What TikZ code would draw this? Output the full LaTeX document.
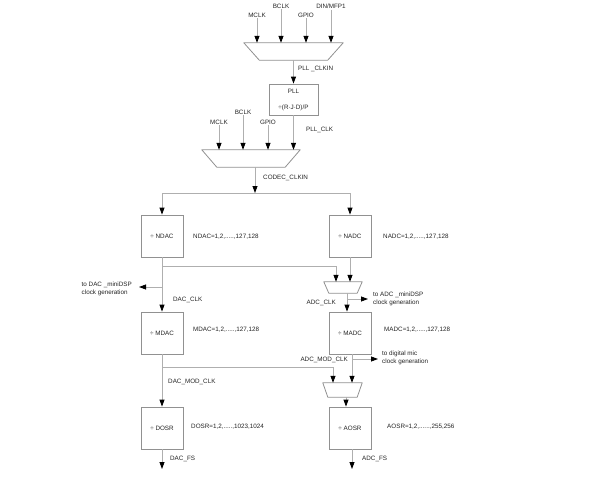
\documentclass[tikz,border=0pt]{standalone}
\usepackage{fontspec}
\setmainfont{Liberation Sans}
\usetikzlibrary{arrows.meta}
\definecolor{wiregray}{RGB}{175,175,175}
\definecolor{boxgray}{RGB}{145,145,145}
\definecolor{txtgray}{RGB}{35,35,35}
\tikzset{blk/.style={rectangle,draw=boxgray,line width=0.8pt,minimum width=42pt,minimum height=42pt,inner sep=0pt,text=txtgray}}
\tikzset{mux/.style={rectangle,inner sep=0pt}}
\tikzset{lbl/.style={inner sep=1pt,text=txtgray}}
\tikzset{wire/.style={draw=wiregray,line width=0.8pt}}
% trapezoid outline on a mux node: name, inset of the lower edge
\newcommand{\muxoutline}[2]{\draw[boxgray,line width=0.8pt,line join=round] (#1.north west) -- (#1.north east) -- ([xshift=-#2]#1.south east) -- ([xshift=#2]#1.south west) -- cycle;}

\begin{document}
\begin{tikzpicture}[x=1pt,y=-1pt,>={Triangle[length=7pt,width=5pt,color=black]},font=\fontsize{6.3}{8}\selectfont]
    \useasboundingbox (0,0) rectangle (611,480);
    % PLL input select
    \node[mux,minimum width=99pt,minimum height=17pt] (pllmux) at (293.5,51.5) {};
    \muxoutline{pllmux}{15.5pt}
    \node[lbl] (mclka) at (257,15) {MCLK};
    \node[lbl] (bclka) at (281,6) {BCLK};
    \node[lbl] (gpioa) at (306,15) {GPIO};
    \node[lbl] (dina) at (331,6) {DIN/MFP1};
    \foreach \n in {mclka,bclka,gpioa,dina}
        \draw [wire,->] (\n) -- (\n |- pllmux.north);
    \node[blk,minimum width=49pt,minimum height=31pt,align=center] (pll) at (293.5,99.5) {PLL\\[8pt]÷(R·J·D)/P};
    \draw [wire,->] (pllmux.south -| pll) -- (pll);
    \node[lbl,anchor=west] (pllclkin) at (297,69) {PLL \_CLKIN};
    % codec input select
    \node[mux,minimum width=98pt,minimum height=17pt] (codecmux) at (251,158.5) {};
    \muxoutline{codecmux}{15pt}
    \node[lbl] (mclkb) at (219,122) {MCLK};
    \node[lbl] (bclkb) at (243,112) {BCLK};
    \node[lbl] (gpiob) at (268,122) {GPIO};
    \foreach \n in {mclkb,bclkb,gpiob}
        \draw [wire,->] (\n) -- (\n |- codecmux.north);
    \draw [wire,->] (pll) -- (pll |- codecmux.north);
    \node[lbl,anchor=west] (pllclk) at (305,130) {PLL\_CLK};
    \coordinate (clkin) at (255,193);
    \draw [wire,->] (clkin |- codecmux.south) -- (clkin);
    \node[lbl,anchor=west] (codecclkin) at (262,178) {CODEC\_CLKIN};
    % N dividers
    \node[blk] (ndac) at (162,236) {÷ NDAC};
    \node[blk] (nadc) at (350,236) {÷ NADC};
    \draw [wire,->] (clkin) -| (ndac);
    \draw [wire,->] (clkin) -| (nadc);
    \node[lbl,anchor=west] (ndacval) at (192,237) {NDAC=1,2,.....,127,128};
    \node[lbl,anchor=west] (nadcval) at (382,237) {NADC=1,2,.....,127,128};
    % ADC clock select
    \node[mux,minimum width=38pt,minimum height=11pt] (adcmux) at (343,287.5) {};
    \muxoutline{adcmux}{5pt}
    \coordinate (dacsplit) at (162,266);
    \draw [wire,->] (dacsplit) -| ([xshift=-7pt]adcmux.north);
    \draw [wire,->] (nadc) -- (nadc |- adcmux.north);
    % M dividers
    \node[blk] (mdac) at (162,333) {÷ MDAC};
    \node[blk] (madc) at (350,333) {÷ MADC};
    \draw [wire,->] (ndac) -- (mdac);
    \coordinate (dacdspx) at (162,287);
    \node[lbl,anchor=east,align=left] (dacdsp) at (133,289) {to DAC \_miniDSP\\clock generation};
    \draw [wire,->,shorten >=6pt] (dacdspx) -- (dacdsp.east |- dacdspx);
    \node[lbl,anchor=west] (dacclk) at (172,300) {DAC\_CLK};
    \node[lbl,anchor=west] (mdacval) at (192,330) {MDAC=1,2,.....,127,128};
    \draw [wire,->] ([xshift=4pt]adcmux.south) -- ([xshift=-3pt]madc.north);
    \coordinate (adcdspx) at (347,299);
    \node[lbl,anchor=west,align=left] (adcdsp) at (372,299) {to ADC \_miniDSP\\clock generation};
    \draw [wire,->,shorten >=4pt] (adcdspx) -- (adcdsp.west);
    \node[lbl,anchor=east] (adcclk) at (337,303) {ADC\_CLK};
    \node[lbl,anchor=west] (madcval) at (383,330) {MADC=1,2,.....,127,128};
    % AOSR clock select
    \node[mux,minimum width=39pt,minimum height=14pt] (aosrmux) at (342.5,390) {};
    \muxoutline{aosrmux}{5pt}
    \draw [wire,->] ([xshift=2pt]madc.south) -- ([xshift=2pt]madc.south |- aosrmux.north);
    \coordinate (micx) at (352,359);
    \node[lbl,anchor=west,align=left] (micgen) at (381,358) {to digital mic\\clock generation};
    \draw [wire,->,shorten >=3pt] (micx) -- (micgen.west |- micx);
    \node[lbl,anchor=east] (adcmodclk) at (349,360) {ADC\_MOD\_CLK};
    % OSR dividers
    \node[blk] (dosr) at (162,428) {÷ DOSR};
    \node[blk] (aosr) at (350,428) {÷ AOSR};
    \draw [wire,->] (mdac) -- (dosr);
    \coordinate (modsplit) at (162,367);
    \draw [wire,->] (modsplit) -| ([xshift=-9.5pt]aosrmux.north);
    \node[lbl,anchor=west] (dacmodclk) at (167,382) {DAC\_MOD\_CLK};
    \node[lbl,anchor=west] (dosrval) at (190,427) {DOSR=1,2,.....,1023,1024};
    \draw [wire,->] ([xshift=3.5pt]aosrmux.south) -- ([xshift=-4pt]aosr.north);
    \node[lbl,anchor=west] (aosrval) at (386,427) {AOSR=1,2,......,255,256};
    % sample clocks
    \coordinate (dacfs) at (162,469);
    \coordinate (adcfs) at (352,469);
    \draw [wire,->] (dosr) -- (dacfs);
    \draw [wire,->] ([xshift=2pt]aosr.south) -- (adcfs);
    \node[lbl,anchor=west] (dacfslbl) at (169,459) {DAC\_FS};
    \node[lbl,anchor=west] (adcfslbl) at (361,459) {ADC\_FS};
\end{tikzpicture}
\end{document}
